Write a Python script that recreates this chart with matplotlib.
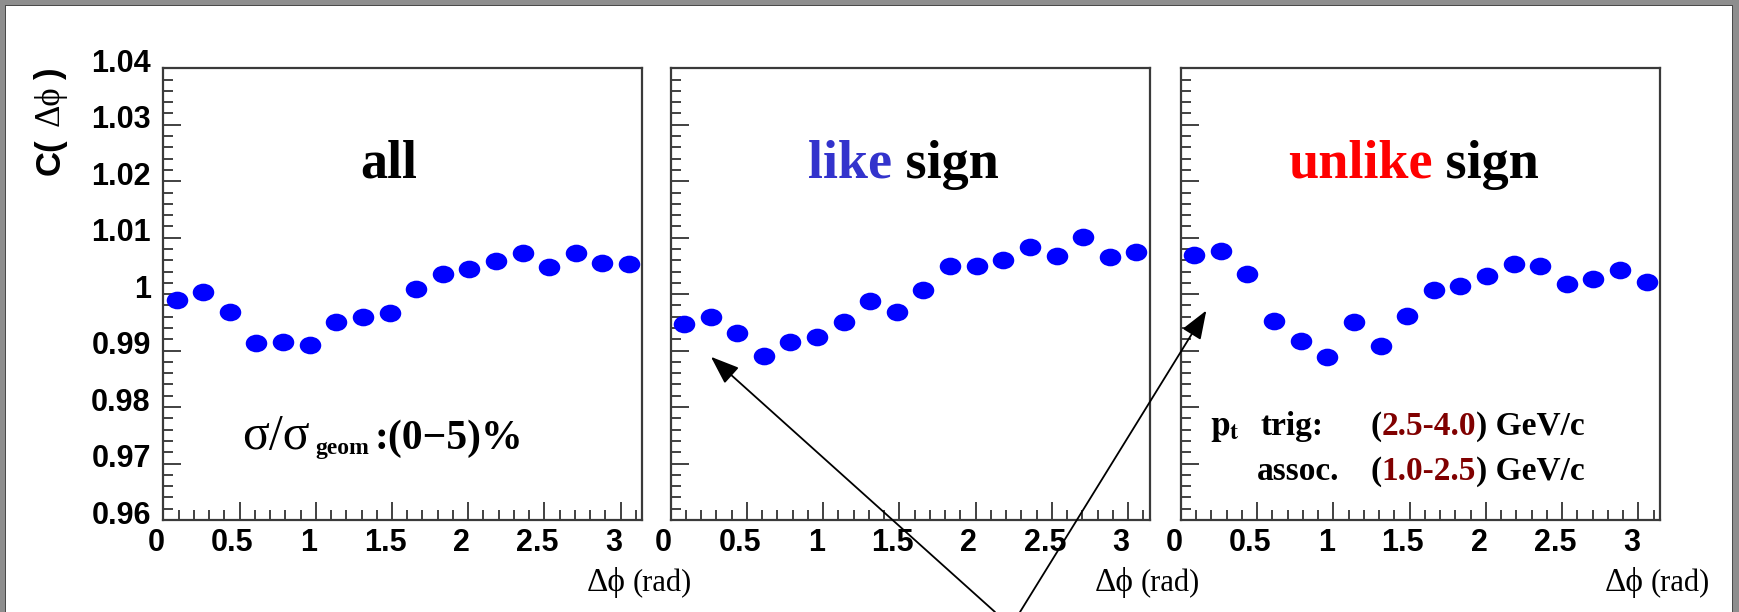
import numpy as np
import matplotlib
matplotlib.use("Agg")
import matplotlib.pyplot as plt
from matplotlib.path import Path
from matplotlib.patches import Rectangle
from matplotlib.ticker import MultipleLocator, FuncFormatter
from matplotlib.transforms import ScaledTranslation

plt.rcParams["mathtext.fontset"] = "stix"

# bin centres in delta-phi (rad) and correlation values per panel
dphi = [0.087, 0.262, 0.436, 0.611, 0.785, 0.960, 1.134, 1.309, 1.484,
        1.658, 1.833, 2.007, 2.182, 2.356, 2.531, 2.705, 2.880, 3.054]
c_all = [0.9990, 1.0003, 0.9969, 0.9914, 0.9916, 0.9910, 0.9950, 0.9959, 0.9966,
         1.0009, 1.0035, 1.0044, 1.0059, 1.0072, 1.0048, 1.0073, 1.0056, 1.0054]
c_like = [0.9947, 0.9960, 0.9931, 0.9891, 0.9915, 0.9924, 0.9950, 0.9988, 0.9968,
          1.0008, 1.0049, 1.0050, 1.0061, 1.0084, 1.0067, 1.0101, 1.0066, 1.0074]
c_unlike = [1.0069, 1.0077, 1.0035, 0.9952, 0.9917, 0.9889, 0.9950, 0.9908, 0.9962,
            1.0007, 1.0014, 1.0033, 1.0054, 1.0050, 1.0018, 1.0026, 1.0042, 1.0022]

x_ticks = [0, 0.5, 1, 1.5, 2, 2.5, 3]
y_ticks = [0.96, 0.97, 0.98, 0.99, 1.00, 1.01, 1.02, 1.03, 1.04]

W, H = 1740, 612
fig = plt.figure(figsize=(W / 100, H / 100), dpi=100, facecolor="white")
serif = ["Liberation Serif", "DejaVu Serif"]

# grey slide border (top, left, right) with a dark inner edge
for (x0, y0, w, h) in [(0, H - 5, W, 5), (0, 0, 6, H), (W - 8, 0, 8, H)]:
    fig.patches.append(Rectangle((x0 / W, y0 / H), w / W, h / H, transform=fig.transFigure,
                                 facecolor="#8e8e8e", edgecolor="none", zorder=-10))
for (x0, y0, w, h) in [(5, H - 6, W - 12, 1.5), (5, 0, 1.5, H - 5), (W - 8, 0, 1.5, H - 5)]:
    fig.patches.append(Rectangle((x0 / W, y0 / H), w / W, h / H, transform=fig.transFigure,
                                 facecolor="#4a4a4a", edgecolor="none", zorder=-9))

circ = Path.unit_circle()
ellipse = Path(circ.vertices * np.array([1.0, 0.82]), circ.codes)

lefts = [163.3, 670.7, 1181.0]
axes = []
for i, (vals, left) in enumerate(zip([c_all, c_like, c_unlike], lefts)):
    ax = fig.add_axes([left / W, 92 / H, 479 / W, 451.7 / H])
    ax.set_facecolor("none")
    ax.plot(dphi, vals, linestyle="none", marker=ellipse, ms=15.5, color="#0000ff",
            markeredgewidth=0, clip_on=False, zorder=3)
    ax.set_xlim(0, np.pi)
    ax.set_ylim(0.96, 1.04)
    ax.set_xticks(x_ticks)
    ax.set_yticks(y_ticks)
    ax.xaxis.set_minor_locator(MultipleLocator(0.1))
    ax.yaxis.set_minor_locator(MultipleLocator(0.002))
    ax.xaxis.set_major_formatter(FuncFormatter(lambda v, p: f"{v:g}"))
    ax.yaxis.set_major_formatter(FuncFormatter(lambda v, p: f"{v:g}"))
    ax.tick_params(which="both", direction="in", top=False, right=False,
                   color="#333333", width=1.3)
    ax.tick_params(which="major", length=13, pad=6)
    ax.tick_params(which="minor", length=7)
    ax.tick_params(axis="y", labelleft=(i == 0), pad=9)
    for sp in ax.spines.values():
        sp.set_color("#3a3a3a")
        sp.set_linewidth(1.6)
    for lab in ax.get_xticklabels():
        lab.set_fontfamily("Liberation Sans")
        lab.set_fontweight("bold")
        lab.set_fontsize(22)
        lab.set_transform(lab.get_transform() + ScaledTranslation(-0.07, 0, fig.dpi_scale_trans))
    for lab in ax.get_yticklabels():
        lab.set_fontfamily("Liberation Sans")
        lab.set_fontweight("bold")
        lab.set_fontsize(22)
        lab.set_transform(lab.get_transform() + ScaledTranslation(0, 0.08, fig.dpi_scale_trans))

    # x axis title, right of the frame
    t_rad = ax.annotate("(rad)", xy=(1, 0), xycoords="axes fraction",
                        xytext=(50 * 0.72, -71 * 0.72), textcoords="offset points",
                        ha="right", va="baseline", fontsize=22,
                        family=serif, annotation_clip=False)
    ax.annotate("\u0394\u03d5", xy=(0, 0), xycoords=t_rad, xytext=(-5, 0),
                textcoords="offset points", ha="right", va="bottom",
                fontsize=24, family=serif, annotation_clip=False)
    axes.append(ax)

ax1, ax2, ax3 = axes

# panel titles
ax1.text(1.48, 1.0206, "all", ha="center", va="baseline", fontsize=39,
         fontweight="bold", family=serif)
t = ax2.text(0.90, 1.0206, "like", ha="left", va="baseline", fontsize=39,
             fontweight="bold", family=serif, color="#3333cc")
ax2.annotate(" sign", xy=(1, 0), xycoords=t, ha="left", va="bottom", fontsize=39,
             fontweight="bold", family=serif, color="black")
t = ax3.text(0.70, 1.0206, "unlike", ha="left", va="baseline", fontsize=39,
             fontweight="bold", family=serif, color="#ff0000")
ax3.annotate(" sign", xy=(1, 0), xycoords=t, ha="left", va="bottom", fontsize=39,
             fontweight="bold", family=serif, color="black")

# centrality label
ax1.text(0.517, 0.9726, "\u03c3/\u03c3", ha="left", va="baseline",
         fontsize=36, family=serif)
ax1.text(1.00, 0.9717, "geom", ha="left", va="baseline",
         fontsize=17, fontweight="bold", family=serif)
ax1.text(1.384, 0.9726, ":(0\u22125)%", ha="left", va="baseline",
         fontsize=30, fontweight="bold", family=serif)

# pt ranges
ax3.text(0.19, 0.9751, r"$\mathbf{p}_{\mathbf{t}}$", ha="left", va="baseline",
         fontsize=25, fontweight="bold", family=serif)
ax3.text(0.52, 0.9751, "trig:", ha="left", va="baseline",
         fontsize=24, fontweight="bold", family=serif)
ax3.text(0.50, 0.9671, "assoc.", ha="left", va="baseline",
         fontsize=24, fontweight="bold", family=serif)
for yy, rng in [(0.9751, "2.5-4.0"), (0.9671, "1.0-2.5")]:
    t = ax3.text(1.24, yy, "(", ha="left", va="baseline", fontsize=24,
                 fontweight="bold", family=serif)
    t = ax3.annotate(rng, xy=(1, 0), xycoords=t, ha="left", va="bottom", fontsize=24,
                     fontweight="bold", family=serif, color="#800000")
    ax3.annotate(") GeV/c", xy=(1, 0), xycoords=t, ha="left", va="bottom", fontsize=24,
                 fontweight="bold", family=serif)

# y axis title, rotated, pieces top-aligned to frame
fig.text(50 / W, 1 - 157 / H, "C(", rotation=90, ha="center", va="center",
         fontsize=25, fontweight="bold", family="Liberation Sans")
fig.text(50 / W, 1 - 106 / H, "\u0394\u03d5", rotation=90, ha="center", va="center",
         fontsize=25, family=serif)
fig.text(50 / W, 1 - 73 / H, ")", rotation=90, ha="center", va="center",
         fontsize=25, fontweight="bold", family="Liberation Sans")

# arrows from the bottom to the first bins
arrow = dict(arrowstyle="-|>,head_length=0.8,head_width=0.3", color="black", lw=1.3,
             mutation_scale=22, shrinkA=0, shrinkB=0)
ax2.annotate("", xy=(0.264, 0.9889), xycoords="data", xytext=(995 / W, 0),
             textcoords="figure fraction", arrowprops=arrow, annotation_clip=False)
ax3.annotate("", xy=(0.166, 0.9971), xycoords="data", xytext=(1020 / W, 0),
             textcoords="figure fraction", arrowprops=arrow, annotation_clip=False)

fig.savefig("out.png", dpi=100, facecolor="white")
